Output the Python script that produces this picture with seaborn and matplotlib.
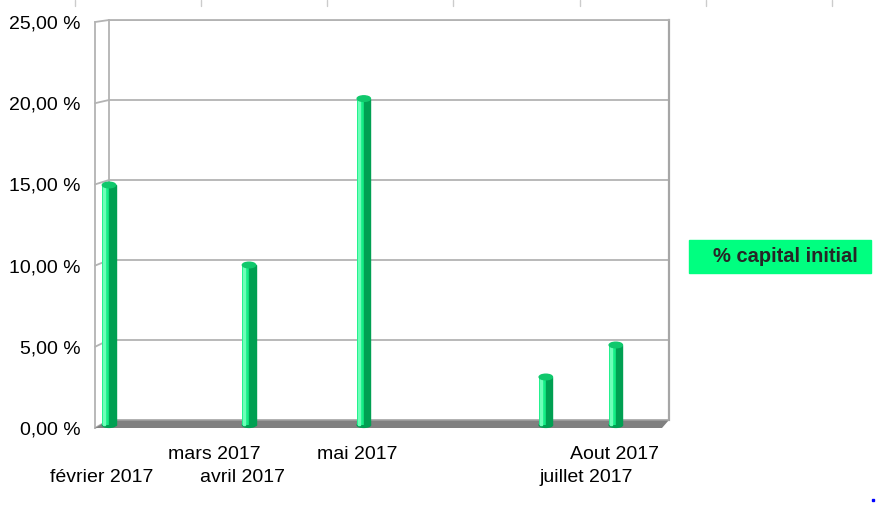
import pandas as pd
import numpy as np
import matplotlib.pyplot as plt
import matplotlib.transforms as mtransforms
import seaborn as sns

from matplotlib.patches import Rectangle, Ellipse, Polygon, Patch, ConnectionPatch
from matplotlib.lines import Line2D

############################################################
##### Data
############################################################

# days since 1 Feb 2017 (date axis)
jours_barres = [0, 50, 91, 156, 181]
valeurs = [15.0, 10.0, 20.4, 3.0, 5.0]

mois = ["février 2017", "mars 2017", "avril 2017", "mai 2017", "juillet 2017", "Aout 2017"]
jours_mois = [0, 40, 50, 91, 173, 183]

graduations = [0, 5, 10, 15, 20, 25]
serie = "% capital initial"

############################################################
##### Style
############################################################

VERT = "#14EE86"
VERT_FONCE = "#00A052"
VERT_CLAIR = "#6DFFB8"
VERT_LEGENDE = "#00FF80"
GRILLE = "#b3b3b3"
SOL = "#808080"

sns.set_theme(style="white")
plt.rcParams["font.family"] = ["Liberation Sans", "DejaVu Sans"]

W, H = 876, 507
fig = plt.figure(figsize=(W / 100, H / 100), dpi=100, facecolor="white")


def box(x0, y0, x1, y1):
    # pixel box (top-left origin) -> figure fraction
    return [x0 / W, 1 - y1 / H, (x1 - x0) / W, (y1 - y0) / H]


# back wall and front plane of the 3D box
ax = fig.add_axes(box(109, 20, 669, 420), zorder=2)
ax_f = fig.add_axes(box(95, 22, 662, 428), zorder=1)

############################################################
##### Bars
############################################################

df = pd.DataFrame({"jour": jours_barres, "pct": valeurs})
sns.barplot(
    data=df,
    x="jour",
    y="pct",
    native_scale=True,
    width=0.19,
    color=VERT,
    saturation=1,
    linewidth=0,
    ax=ax,
    zorder=3,
)

# fake cylinder look: dark side, highlight, top cap
decal = ax.transData + mtransforms.ScaledTranslation(0, -5 / 100, fig.dpi_scale_trans)
for p in list(ax.patches):
    x, w, h = p.get_x(), p.get_width(), p.get_height()
    p.set_transform(decal)
    p.set_clip_on(False)
    ax.add_patch(Rectangle((x + w * 0.5, 0), w * 0.5, h, color=VERT_FONCE, transform=decal, clip_on=False, zorder=3))
    ax.add_patch(Rectangle((x + w * 0.08, 0), w * 0.14, h, color=VERT_CLAIR, transform=decal, clip_on=False, zorder=3))
    ax.add_patch(Ellipse((x + w / 2, 0), w, 0.3, color=VERT_FONCE, transform=decal, clip_on=False, zorder=2.9))
    ax.add_patch(Ellipse((x + w / 2, h), w, 0.35, color="#10C86C", transform=decal, clip_on=False, zorder=3.1))

ax.set_xlim(0, 200)
ax.set_ylim(0, 25)
ax.set_xlabel("")
ax.set_ylabel("")
ax.set_facecolor("none")
ax.set_yticks(graduations)
ax.set_yticklabels([])
ax.tick_params(axis="y", length=0)
ax.grid(axis="y", color=GRILLE, linewidth=1.3)
ax.grid(axis="x", visible=False)
for side in ["left", "top"]:
    ax.spines[side].set_color(GRILLE)
    ax.spines[side].set_linewidth(1.3)
ax.spines["right"].set_color("#a6a6a6")
ax.spines["right"].set_linewidth(1.6)
ax.spines["bottom"].set_visible(False)

# month labels, staggered on two rows (even ones on the lower row)
ax.set_xticks(jours_mois)
ax.set_xticklabels(mois)
ax.tick_params(axis="x", length=0, pad=19, labelsize=14, labelcolor="black")
for i, lbl in enumerate(ax.get_xticklabels()):
    dy = -23 / 100 if i % 2 == 0 else 0
    lbl.set_transform(lbl.get_transform() + mtransforms.ScaledTranslation(-7 / 100, dy, fig.dpi_scale_trans))

############################################################
##### Front plane (y labels) and side wall
############################################################

ax_f.set_xlim(0, 1)
ax_f.set_ylim(0, 25)
ax_f.set_facecolor("none")
ax_f.set_xticks([])
ax_f.set_yticks(graduations)
ax_f.set_yticklabels([f"{v:.2f}".replace(".", ",") + " %" for v in graduations])
ax_f.tick_params(axis="y", length=0, pad=10.5, labelsize=14, labelcolor="black")
for side in ["right", "top", "bottom"]:
    ax_f.spines[side].set_visible(False)
ax_f.spines["left"].set_color(GRILLE)
ax_f.spines["left"].set_linewidth(1.3)

for v in graduations:
    con = ConnectionPatch(
        xyA=(0, v), coordsA=ax_f.transData, xyB=(0, v), coordsB=ax.transData, color=GRILLE, linewidth=1.3
    )
    fig.add_artist(con)

# floor of the 3D box
to_fig = fig.transFigure.inverted()
pts = np.vstack(
    [
        ax.transData.transform([(0, 0), (200, 0)]),
        ax_f.transData.transform([(1, 0), (0, 0)]),
    ]
)
sol = Polygon(to_fig.transform(pts), closed=True, facecolor=SOL, edgecolor="none", transform=fig.transFigure, zorder=1.5)
fig.add_artist(sol)
bord = to_fig.transform(ax.transData.transform([(0, 0), (200, 0)]))
fig.add_artist(Line2D(bord[:, 0], bord[:, 1], color="#a0a0a0", linewidth=1.2, transform=fig.transFigure, zorder=1.6))

############################################################
##### Legend
############################################################

fig.legend(
    handles=[Patch(facecolor=VERT_LEGENDE, edgecolor="none")],
    labels=[serie + " "],
    loc="center left",
    bbox_to_anchor=(689 / W, 1 - 256.5 / H),
    frameon=True,
    facecolor=VERT_LEGENDE,
    edgecolor=VERT_LEGENDE,
    framealpha=1,
    fancybox=False,
    borderpad=0.37,
    borderaxespad=0,
    handlelength=0.4,
    handletextpad=0.42,
    prop={"weight": "bold", "size": 14.5},
)

# leftovers of the sheet around the chart
for xp in [75, 201, 327, 453, 580, 706, 832]:
    fig.add_artist(Line2D([xp / W, xp / W], [1, 1 - 6 / H], color="#cccccc", linewidth=1, transform=fig.transFigure))
fig.add_artist(Line2D([873 / W], [1 - 500 / H], marker="s", markersize=1.5, color="blue", transform=fig.transFigure))

fig.savefig("out.png", dpi=100)
